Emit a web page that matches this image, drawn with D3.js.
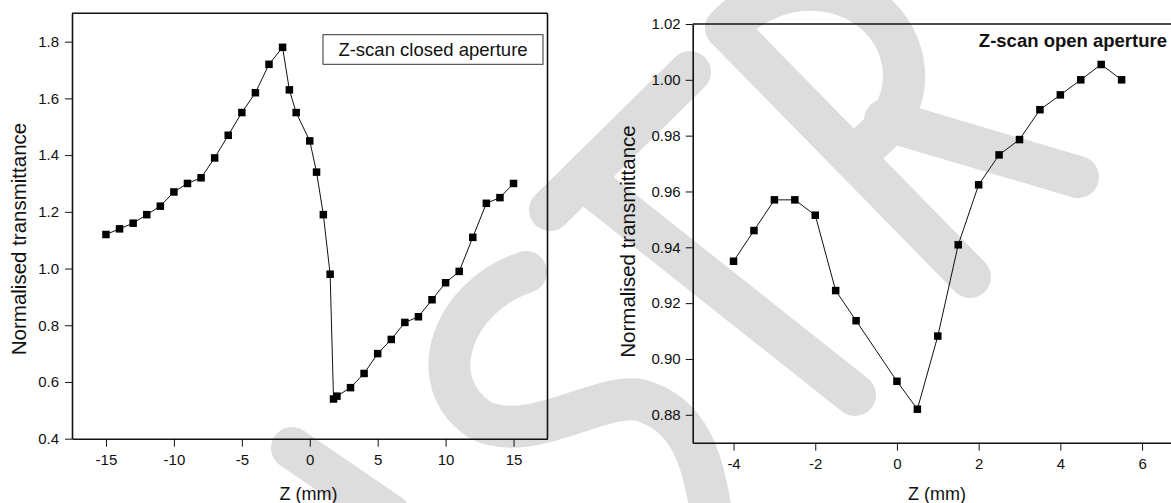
<!DOCTYPE html>
<html>
<head>
<meta charset="utf-8">
<script src="https://cdn.jsdelivr.net/npm/d3@7"></script>
<style>
  body { margin: 0; background: #fff; }
  text { font-family: Arial, "Liberation Sans", sans-serif; fill: #111; }
</style>
</head>
<body>
<div id="chart"></div>
<script>
// closed aperture scan
let closedZ = [-15, -14, -13, -12, -11, -10, -9, -8, -7, -6, -5, -4, -3, -2, -1.5, -1, 0, 0.5, 1, 1.5, 1.75, 2,
    3, 4, 5, 6, 7, 8, 9, 10, 11, 12, 13, 14, 15];
let closedT = [1.12, 1.14, 1.16, 1.19, 1.22, 1.27, 1.30, 1.32, 1.39, 1.47, 1.55, 1.62, 1.72, 1.78, 1.63, 1.55, 1.45,
    1.34, 1.19, 0.98, 0.54, 0.55, 0.58, 0.63, 0.70, 0.75, 0.81, 0.83, 0.89, 0.95, 0.99, 1.11, 1.23, 1.25, 1.30];
let closedXTicks = [-15, -10, -5, 0, 5, 10, 15];
let closedYTicks = [0.4, 0.6, 0.8, 1.0, 1.2, 1.4, 1.6, 1.8];

// open aperture scan
let openZ = [-4, -3.5, -3, -2.5, -2, -1.5, -1, 0, 0.5, 1, 1.5, 2, 2.5, 3, 3.5, 4, 4.5, 5, 5.5];
let openT = [0.935, 0.946, 0.957, 0.957, 0.9515, 0.9245, 0.9137, 0.892, 0.882, 0.9082, 0.9409, 0.9624, 0.9731,
    0.9786, 0.9893, 0.9946, 1.000, 1.0055, 1.000];
let openXTicks = [-4, -2, 0, 2, 4, 6];
let openYTicks = [0.88, 0.90, 0.92, 0.94, 0.96, 0.98, 1.00, 1.02];

let svg = d3.select("#chart")
    .append("svg")
    .attr("width", 1171)
    .attr("height", 503);

// faint watermark behind everything
let wm = svg.append("g")
    .attr("fill", "none")
    .attr("stroke", "#dddddd")
    .attr("stroke-width", 42)
    .attr("stroke-linecap", "round");
[
    "M550,210 L690,72",
    "M590,185 L855,395",
    "M726,28 L970,277",
    "M726,28 C780,-30 870,-20 898,45 C915,90 895,125 860,150",
    "M885,120 L1078,177",
    "M526,272 C455,295 420,380 480,420 C530,445 600,392 640,400 C690,414 704,460 712,520",
    "M292,448 L390,515"
].forEach(function (d) { wm.append("path").attr("d", d); });

function drawPanel(p) {
    let x = d3.scaleLinear().domain(p.xDomain).range([p.left, p.right]);
    let y = d3.scaleLinear().domain(p.yDomain).range([p.bottom, p.top]);
    let g = svg.append("g");

    let xAxis = d3.axisBottom(x).tickValues(p.xTicks).tickSize(8).tickSizeOuter(0).tickPadding(8)
        .tickFormat(function (d) { return String(d); });
    let yAxis = d3.axisLeft(y).tickValues(p.yTicks).tickSize(7).tickSizeOuter(0).tickPadding(p.yPad)
        .tickFormat(d3.format(p.yFmt));

    g.append("g")
        .attr("transform", "translate(0," + p.bottom + ")")
        .call(xAxis);
    g.append("g")
        .attr("transform", "translate(" + p.left + ",0)")
        .call(yAxis);
    g.selectAll(".tick text").style("font-size", "15px").attr("fill", "#111");
    g.selectAll(".tick line").attr("stroke", "#111");
    g.selectAll(".domain").attr("stroke", "#111").attr("stroke-width", 1.6);

    // frame: top (and right when visible)
    g.append("line")
        .attr("x1", p.left).attr("x2", p.right)
        .attr("y1", p.top).attr("y2", p.top)
        .attr("stroke", "#111").attr("stroke-width", 1.6);
    g.append("line")
        .attr("x1", p.right).attr("x2", p.right)
        .attr("y1", p.top).attr("y2", p.bottom)
        .attr("stroke", "#111").attr("stroke-width", 1.6);

    let pts = p.xs.map(function (d, i) { return [d, p.ys[i]]; });
    g.append("path")
        .datum(pts)
        .attr("fill", "none")
        .attr("stroke", "#111")
        .attr("stroke-width", 1)
        .attr("d", d3.line().x(function (d) { return x(d[0]); }).y(function (d) { return y(d[1]); }));
    g.selectAll(".pt")
        .data(pts)
        .enter()
        .append("rect")
        .attr("class", "pt")
        .attr("x", function (d) { return x(d[0]) - 3.75; })
        .attr("y", function (d) { return y(d[1]) - 3.75; })
        .attr("width", 7.5)
        .attr("height", 7.5)
        .attr("fill", "#000");

    g.append("text")
        .attr("x", p.xLabelX)
        .attr("y", 500)
        .attr("text-anchor", "middle")
        .style("font-size", "18px")
        .text("Z (mm)");
    g.append("text")
        .attr("transform", "translate(" + p.yLabelX + "," + p.yLabelY + ") rotate(-90)")
        .attr("text-anchor", "middle")
        .style("font-size", "20.5px")
        .text("Normalised transmittance");
    return g;
}

let left = drawPanel({
    left: 72, right: 547.5, top: 13.3, bottom: 438.7,
    xDomain: [-17.5, 17.5], yDomain: [0.4, 1.9],
    xTicks: closedXTicks, yTicks: closedYTicks, yFmt: ".1f", yPad: 6,
    xs: closedZ, ys: closedT,
    xLabelX: 308.5, yLabelX: 26, yLabelY: 239
});
left.append("rect")
    .attr("x", 323).attr("y", 34.7)
    .attr("width", 220).attr("height", 29.6)
    .attr("fill", "#fff")
    .attr("stroke", "#333").attr("stroke-width", 1);
left.append("text")
    .attr("x", 433).attr("y", 55.5)
    .attr("text-anchor", "middle")
    .style("font-size", "18.5px")
    .text("Z-scan closed aperture");

let right = drawPanel({
    left: 692.7, right: 1182.9, top: 24, bottom: 442.7,
    xDomain: [-5, 7], yDomain: [0.87, 1.02],
    xTicks: openXTicks, yTicks: openYTicks, yFmt: ".2f", yPad: 5,
    xs: openZ, ys: openT,
    xLabelX: 937, yLabelX: 635, yLabelY: 241.5
});
right.append("text")
    .attr("x", 1167).attr("y", 46.7)
    .attr("text-anchor", "end")
    .style("font-size", "18.5px")
    .style("font-weight", "bold")
    .text("Z-scan open aperture");
</script>
</body>
</html>
